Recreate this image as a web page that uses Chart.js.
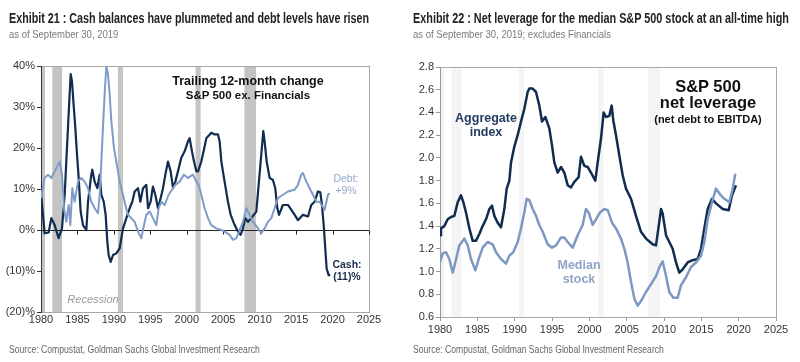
<!DOCTYPE html>
<html>
<head>
<meta charset="utf-8">
<script src="https://cdn.jsdelivr.net/npm/chart.js@4.4.0/dist/chart.umd.min.js"></script>
<style>
  body { margin: 0; background: #fff; width: 800px; height: 362px; overflow: hidden; position: relative; }
  canvas { position: absolute; top: 0; }
  .t { position: absolute; white-space: nowrap; font-family: 'Liberation Sans', Arial, sans-serif; transform-origin: 0 0; }
  .title { font-weight: bold; font-size: 14.5px; color: #222; }
  .sub { font-size: 11.5px; color: #7a7a7a; }
  .src { font-size: 11.5px; color: #666; }
  .a { position: absolute; white-space: nowrap; font-family: 'Liberation Sans', Arial, sans-serif; font-weight: bold; text-align: center; transform: translateX(-50%); line-height: 1.1; }
</style>
</head>
<body>
<canvas id="cash" width="400" height="362" style="left:0"></canvas>
<canvas id="lev" width="400" height="362" style="left:400px"></canvas>

<div class="t title" data-w="360" style="left:9px;top:10px">Exhibit 21 : Cash balances have plummeted and debt levels have risen</div>
<div class="t sub" data-w="109" style="left:9px;top:28px">as of September 30, 2019</div>
<div class="t src" data-w="251" style="left:9px;top:343px">Source: Compustat, Goldman Sachs Global Investment Research</div>

<div class="t title" data-w="376" style="left:413px;top:10px">Exhibit 22 : Net leverage for the median S&amp;P 500 stock at an all-time high</div>
<div class="t sub" data-w="198" style="left:413px;top:28px">as of September 30, 2019; excludes Financials</div>
<div class="t src" data-w="251" style="left:413px;top:343px">Source: Compustat, Goldman Sachs Global Investment Research</div>

<div class="a" style="left:248px;top:75px;font-size:12.5px;color:#111">Trailing 12-month change</div>
<div class="a" style="left:248px;top:89px;font-size:11.5px;color:#111">S&amp;P 500 ex. Financials</div>
<div class="a" style="left:346px;top:173px;font-size:10.5px;color:#94a9cc;font-weight:normal">Debt:<br>+9%</div>
<div class="a" style="left:347px;top:259px;font-size:10.5px;color:#1b2f4d">Cash:<br>(11)%</div>
<div class="a" style="left:93px;top:293px;font-size:11px;color:#999;font-weight:normal;font-style:italic">Recession</div>

<div class="a" style="left:708px;top:78px;font-size:16.5px;color:#111;line-height:1">S&amp;P 500</div>
<div class="a" style="left:708px;top:94px;font-size:16.5px;color:#111;line-height:1">net leverage</div>
<div class="a" style="left:708px;top:113px;font-size:11px;color:#111">(net debt to EBITDA)</div>
<div class="a" style="left:486px;top:112px;font-size:12.5px;color:#1b3a5e">Aggregate<br>index</div>
<div class="a" style="left:579px;top:259px;font-size:12.5px;color:#8ea5c8">Median<br>stock</div>

<script>
// ---------------------------------------------------------------------------
// DATA
// ---------------------------------------------------------------------------

const recessionStarts = [1980.0, 1981.55, 1990.55, 2001.2, 2007.9];
const recessionEnds   = [1980.55, 1982.9, 1991.25, 2001.9, 2009.5];

const cashYears = [1980.0, 1980.5, 1981.05, 1981.42, 1981.87, 1982.42, 1982.88, 1983.25, 1983.47, 1983.7,
  1983.93, 1984.07, 1984.25, 1984.44, 1984.71, 1984.94, 1985.17, 1985.44, 1985.76, 1986.22,
  1986.45, 1986.9, 1987.04, 1987.36, 1987.73, 1988.05, 1988.28, 1988.6, 1988.87, 1989.1,
  1989.28, 1989.56, 1989.88, 1990.33, 1990.79, 1991.25, 1991.71, 1992.16, 1992.53, 1992.85,
  1993.31, 1993.63, 1993.99, 1994.45, 1994.68, 1995.04, 1995.36, 1995.68, 1996.05, 1996.42,
  1996.74, 1997.06, 1997.42, 1997.79, 1998.11, 1998.43, 1998.79, 1999.25, 1999.71, 2000.16,
  2000.39, 2000.71, 2000.99, 2001.31, 2001.54, 2001.99, 2002.31, 2002.68, 2003.37, 2003.82,
  2004.28, 2004.51, 2004.74, 2005.19, 2005.65, 2006.02, 2006.57, 2007.03, 2007.39, 2007.71,
  2008.03, 2008.4, 2008.85, 2009.54, 2009.86, 2010.22, 2010.5, 2010.68, 2010.96, 2011.37,
  2011.82, 2012.14, 2012.42, 2012.65, 2013.19, 2013.88, 2014.8, 2015.25, 2015.94, 2016.63,
  2017.08, 2017.54, 2018.0, 2018.32, 2018.55, 2018.82, 2019.0, 2019.19, 2019.46, 2019.69];
const cashChange = [9.0, -0.8, -0.6, 2.9, 1.2, -2.0, 0.4, 8.6, 16.7, 24.9,
  33.1, 38.0, 36.3, 31.4, 24.9, 18.4, 12.7, 4.5, 1.2, 0.0,
  6.9, 13.5, 14.7, 11.8, 10.2, 13.5, 8.6, 6.9, 3.7, -2.9,
  -6.1, -7.8, -6.1, -5.7, -4.5, 0.4, 2.9, 5.3, 6.9, 9.4,
  10.2, 6.9, 10.2, 11.0, 5.3, 6.9, 10.6, 8.6, 5.3, 7.8,
  10.2, 13.5, 16.7, 14.3, 10.2, 11.8, 14.3, 17.6, 19.2, 21.6,
  22.4, 19.2, 16.7, 14.3, 14.3, 16.7, 19.2, 22.4, 23.7, 23.3,
  23.3, 21.6, 16.7, 11.8, 6.9, 3.7, 1.2, -0.4, -1.2, 0.4,
  2.9, 2.0, 2.9, 4.5, 11.0, 18.4, 24.1, 21.6, 16.7, 12.7,
  12.2, 10.2, 5.3, 3.7, 6.1, 6.1, 3.7, 2.4, 3.7, 3.3,
  6.1, 6.9, 9.4, 9.2, 6.1, 0.4, -4.5, -9.4, -11.0, -11.0];

const debtYears = [1980.0, 1980.5, 1980.96, 1981.42, 1982.1, 1982.56, 1982.88, 1983.16, 1983.47, 1983.8,
  1984.02, 1984.3, 1984.62, 1985.08, 1985.53, 1985.99, 1986.45, 1986.9, 1987.36, 1987.82,
  1988.05, 1988.28, 1988.5, 1988.73, 1988.96, 1989.19, 1989.42, 1989.65, 1990.01, 1990.33,
  1990.79, 1991.25, 1991.57, 1991.93, 1992.39, 1992.85, 1993.31, 1993.76, 1994.13, 1994.45,
  1994.91, 1995.36, 1995.82, 1996.14, 1996.51, 1996.96, 1997.51, 1998.11, 1998.43, 1999.02,
  1999.62, 2000.16, 2000.85, 2001.31, 2001.63, 2001.99, 2002.45, 2002.91, 2003.37, 2004.05,
  2004.74, 2005.19, 2005.88, 2006.34, 2006.8, 2007.25, 2007.71, 2008.17, 2008.63, 2009.08,
  2009.77, 2010.22, 2010.68, 2011.14, 2011.6, 2012.05, 2012.51, 2013.2, 2013.88, 2014.8,
  2015.25, 2015.71, 2015.94, 2016.4, 2016.85, 2017.31, 2017.77, 2018.23, 2018.91, 2019.37, 2019.6];
const debtChange = [7.8, 12.7, 13.5, 12.7, 15.1, 16.7, 13.5, 5.3, 2.0, 6.1,
  1.2, 10.2, 6.9, 11.8, 12.7, 11.8, 10.2, 6.9, 5.3, 4.1,
  8.6, 16.7, 24.9, 33.1, 40.0, 38.0, 33.1, 26.5, 20.0, 16.7,
  11.8, 8.6, 6.1, 3.7, 2.9, 2.0, -0.4, -2.0, 1.2, 3.7,
  4.5, 2.9, 1.2, 5.3, 6.9, 6.1, 8.6, 10.2, 11.0, 11.8,
  13.5, 12.7, 13.5, 11.8, 11.0, 8.6, 5.3, 2.9, 1.2, 0.4,
  0.0, -0.4, -1.2, -2.4, -2.0, 0.0, 2.0, 5.3, 3.7, 2.0,
  0.4, -0.8, 0.4, 2.0, 2.9, 5.3, 7.8, 8.6, 9.4, 9.8,
  11.0, 13.5, 13.9, 11.8, 10.2, 8.6, 6.9, 6.9, 4.9, 8.6, 9.0];

const aggYears = [1980.0, 1980.13, 1980.58, 1981.03, 1981.47, 1981.92, 1982.37, 1982.81, 1983.13, 1983.48,
  1983.93, 1984.38, 1984.82, 1985.27, 1985.71, 1986.16, 1986.61, 1986.96, 1987.28, 1987.72,
  1988.17, 1988.62, 1988.93, 1989.29, 1989.51, 1989.96, 1990.4, 1990.85, 1991.29, 1991.74,
  1991.96, 1992.41, 1992.86, 1993.3, 1993.66, 1994.11, 1994.64, 1995.0, 1995.31, 1995.76,
  1996.21, 1996.65, 1997.1, 1997.54, 1997.99, 1998.57, 1998.88, 1999.33, 1999.78, 2000.22,
  2000.8, 2001.12, 2001.56, 2001.92, 2002.23, 2002.68, 2002.99, 2003.21, 2003.57, 2004.02,
  2004.46, 2004.91, 2005.58, 2006.25, 2006.92, 2007.59, 2008.48, 2008.93, 2009.29, 2009.6,
  2009.82, 2010.27, 2010.71, 2011.16, 2011.61, 2012.05, 2012.5, 2013.17, 2013.84, 2014.51,
  2014.96, 2015.4, 2015.85, 2016.43, 2016.96, 2017.86, 2018.66, 2019.11, 2019.64];
const aggLeverage = [1.32, 1.38, 1.40, 1.46, 1.48, 1.49, 1.61, 1.67, 1.61, 1.52,
  1.38, 1.27, 1.27, 1.33, 1.40, 1.46, 1.55, 1.58, 1.49, 1.43,
  1.39, 1.55, 1.73, 1.80, 1.96, 2.10, 2.20, 2.32, 2.43, 2.58,
  2.61, 2.61, 2.58, 2.46, 2.32, 2.36, 2.26, 2.11, 1.96, 1.87,
  1.92, 1.87, 1.76, 1.74, 1.79, 1.83, 2.01, 1.93, 1.92, 1.87,
  1.80, 1.96, 2.17, 2.40, 2.36, 2.37, 2.46, 2.33, 2.20, 2.02,
  1.85, 1.73, 1.64, 1.49, 1.35, 1.29, 1.24, 1.23, 1.40, 1.55,
  1.51, 1.32, 1.26, 1.20, 1.08, 0.99, 1.02, 1.08, 1.10, 1.11,
  1.20, 1.38, 1.55, 1.64, 1.60, 1.55, 1.54, 1.67, 1.76];

const medYears = [1980.0, 1980.36, 1980.8, 1981.25, 1981.7, 1982.05, 1982.59, 1983.26, 1983.71, 1984.15,
  1984.73, 1985.18, 1985.71, 1986.38, 1987.05, 1987.5, 1988.17, 1988.84, 1989.29, 1989.82,
  1990.4, 1990.85, 1991.29, 1991.61, 1991.96, 1992.41, 1992.86, 1993.3, 1993.75, 1994.42,
  1995.0, 1995.54, 1996.21, 1996.65, 1997.1, 1997.77, 1998.44, 1999.11, 1999.55, 1999.91,
  2000.45, 2000.89, 2001.43, 2002.0, 2002.46, 2003.04, 2003.57, 2004.24, 2004.69, 2005.13,
  2005.58, 2006.03, 2006.47, 2006.92, 2007.59, 2008.26, 2008.93, 2009.46, 2009.82, 2010.27,
  2010.71, 2011.25, 2011.83, 2012.28, 2012.95, 2013.62, 2014.29, 2014.96, 2015.4, 2015.85,
  2016.43, 2016.96, 2017.5, 2018.08, 2018.75, 2019.2, 2019.55];
const medLeverage = [1.08, 1.16, 1.17, 1.11, 0.99, 1.08, 1.23, 1.29, 1.23, 1.11,
  1.01, 1.11, 1.21, 1.26, 1.24, 1.17, 1.11, 1.07, 1.14, 1.17,
  1.26, 1.38, 1.52, 1.64, 1.63, 1.55, 1.49, 1.41, 1.35, 1.24,
  1.21, 1.23, 1.30, 1.30, 1.26, 1.21, 1.32, 1.41, 1.55, 1.52,
  1.41, 1.46, 1.52, 1.55, 1.54, 1.43, 1.38, 1.29, 1.20, 1.08,
  0.91, 0.76, 0.70, 0.74, 0.82, 0.89, 0.96, 1.05, 1.09, 0.96,
  0.82, 0.77, 0.77, 0.88, 0.95, 1.04, 1.08, 1.14, 1.26, 1.46,
  1.61, 1.73, 1.68, 1.64, 1.61, 1.73, 1.86];

const xTicks = [1980, 1985, 1990, 1995, 2000, 2005, 2010, 2015, 2020, 2025];

// ---------------------------------------------------------------------------
// HELPERS
// ---------------------------------------------------------------------------

const NAVY = '#102c4f';
const LIGHT = '#7f9bc8';
const TICK_FONT = { family: "'Liberation Sans', Arial, sans-serif", size: 11 };

// squeeze the condensed-looking header/footer texts to the reference widths
document.querySelectorAll('.t[data-w]').forEach(el => {
  const k = parseFloat(el.dataset.w) / el.offsetWidth;
  el.style.transform = 'scaleX(' + k.toFixed(3) + ')';
});

function toPoints(xs, ys) {
  return xs.map((x, i) => ({ x: x, y: ys[i] }));
}

// recession shading + frame, drawn under the lines
function framePlugin(opts) {
  return {
    id: 'frame',
    beforeDatasetsDraw(chart) {
      const { ctx, chartArea: a, scales: { x, y } } = chart;
      ctx.save();
      ctx.fillStyle = opts.band;
      recessionStarts.forEach((s, i) => {
        const x0 = x.getPixelForValue(s);
        const x1 = x.getPixelForValue(recessionEnds[i]);
        ctx.fillRect(x0, a.top, x1 - x0, a.bottom - a.top);
      });
      ctx.strokeStyle = '#a8a8a8';
      ctx.lineWidth = 1;
      ctx.strokeRect(a.left + 0.5, a.top + 0.5, a.right - a.left, a.bottom - a.top);
      // left axis
      ctx.strokeStyle = opts.axis;
      ctx.beginPath();
      ctx.moveTo(a.left + 0.5, a.top);
      ctx.lineTo(a.left + 0.5, a.bottom + 1);
      ctx.stroke();
      if (opts.zero) {
        const y0 = Math.round(y.getPixelForValue(0)) + 0.5;
        ctx.strokeStyle = '#222';
        ctx.beginPath();
        ctx.moveTo(a.left, y0);
        ctx.lineTo(a.right, y0);
        xTicks.forEach(t => {
          const px = Math.round(x.getPixelForValue(t)) + 0.5;
          ctx.moveTo(px, y0);
          ctx.lineTo(px, y0 + 4);
        });
        ctx.stroke();
      }
      ctx.restore();
    }
  };
}

function makeChart(id, cfg) {
  return new Chart(document.getElementById(id), {
    type: 'line',
    data: { datasets: cfg.datasets },
    options: {
      responsive: false,
      animation: false,
      layout: { padding: cfg.padding },
      plugins: { legend: { display: false }, tooltip: { enabled: false } },
      elements: { point: { radius: 0 }, line: { tension: 0, borderJoinStyle: 'round' } },
      scales: {
        x: {
          type: 'linear',
          min: 1980,
          max: 2025,
          afterBuildTicks: (s) => { s.ticks = xTicks.map(v => ({ value: v })); },
          afterFit: (s) => { s.height = cfg.xHeight; },
          grid: { drawOnChartArea: false, drawTicks: cfg.xTickMarks, tickLength: 4, color: '#999' },
          border: { display: false },
          ticks: { color: '#333', font: TICK_FONT, maxRotation: 0, padding: cfg.xTickPad, callback: v => v }
        },
        y: {
          min: cfg.yMin,
          max: cfg.yMax,
          afterFit: (s) => { s.width = cfg.yWidth; },
          grid: { drawOnChartArea: false, drawTicks: true, tickLength: 4, color: cfg.yTickColor },
          border: { display: false },
          ticks: { stepSize: cfg.yStep, color: '#333', font: TICK_FONT, padding: 2, callback: cfg.yLabel }
        }
      }
    },
    plugins: [framePlugin(cfg.frame)]
  });
}

// ---------------------------------------------------------------------------
// EXHIBIT 21 - cash vs debt growth
// ---------------------------------------------------------------------------

makeChart('cash', {
  datasets: [
    { data: toPoints(debtYears, debtChange), borderColor: LIGHT, borderWidth: 2 },
    { data: toPoints(cashYears, cashChange), borderColor: NAVY, borderWidth: 2.2 }
  ],
  padding: { left: 0, top: 66, right: 31, bottom: 30 },
  xHeight: 20, xTickPad: 1, xTickMarks: false,
  yWidth: 41, yMin: -20, yMax: 40, yStep: 10, yTickColor: '#333',
  yLabel: v => v < 0 ? '(' + (-v) + ')%' : v + '%',
  frame: { band: '#c4c4c4', axis: '#333', zero: true }
});

// ---------------------------------------------------------------------------
// EXHIBIT 22 - net leverage
// ---------------------------------------------------------------------------

makeChart('lev', {
  datasets: [
    { data: toPoints(medYears, medLeverage), borderColor: '#7d98c2', borderWidth: 2.5 },
    { data: toPoints(aggYears, aggLeverage), borderColor: NAVY, borderWidth: 2.5 }
  ],
  padding: { left: 0, top: 67, right: 24, bottom: 25 },
  xHeight: 20, xTickPad: 2, xTickMarks: true,
  yWidth: 40, yMin: 0.6, yMax: 2.8, yStep: 0.2, yTickColor: '#999',
  yLabel: v => v.toFixed(1),
  frame: { band: '#f4f4f4', axis: '#999', zero: false }
});
</script>
</body>
</html>
